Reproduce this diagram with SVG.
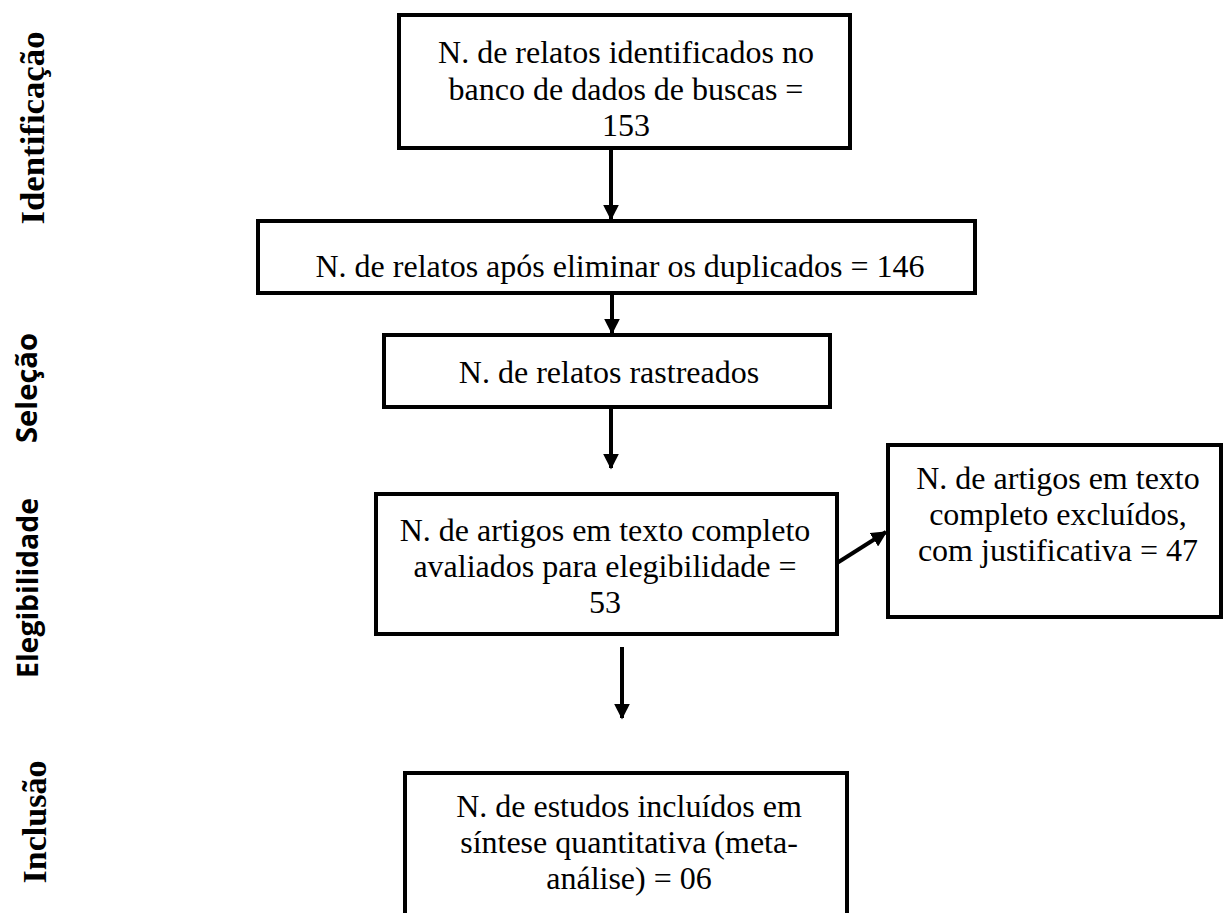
<svg xmlns="http://www.w3.org/2000/svg" width="1224" height="913" viewBox="0 0 1224 913">
<defs>
<style>
.box{fill:#fff;stroke:#000;stroke-width:4}
.t{font-family:"Liberation Serif","Times New Roman",serif;font-size:32px;fill:#000;text-anchor:middle}
.side{font-family:"Liberation Serif","Times New Roman",serif;font-size:34px;font-weight:bold;fill:#000;text-anchor:middle}
.side2{font-family:"Open Sans","Liberation Sans",sans-serif;font-size:28px;font-weight:bold;fill:#000;text-anchor:middle}
.c{stroke:#000;stroke-width:4;fill:none}
</style>
<marker id="ah" viewBox="0 0 10 10" refX="9" refY="5" markerWidth="4" markerHeight="4" orient="auto" markerUnits="strokeWidth">
<path d="M0,0 L10,5 L0,10 Z" fill="#000"/>
</marker>
</defs>
<rect width="1224" height="913" fill="#fff"/>
<g id="labels">
<text class="side" font-family="Liberation Serif, Times New Roman, serif" transform="translate(44,128) rotate(-90)" textLength="193" lengthAdjust="spacingAndGlyphs">Identificação</text>
<text class="side2" transform="translate(37,388) rotate(-90)" textLength="110" lengthAdjust="spacingAndGlyphs">Seleção</text>
<text class="side2" transform="translate(38,588) rotate(-90)" textLength="180" lengthAdjust="spacingAndGlyphs">Elegibilidade</text>
<text class="side" font-family="Liberation Serif, Times New Roman, serif" transform="translate(46,822) rotate(-90)" textLength="123" lengthAdjust="spacingAndGlyphs">Inclusão</text>
</g>
<g id="connectors">
<line class="c" x1="611" y1="150" x2="611" y2="219" marker-end="url(#ah)"/>
<line class="c" x1="612" y1="295" x2="612" y2="333" marker-end="url(#ah)"/>
<line class="c" x1="611" y1="409" x2="611" y2="468" marker-end="url(#ah)"/>
<line class="c" x1="622" y1="647" x2="622" y2="718" marker-end="url(#ah)"/>
<line class="c" x1="837" y1="563" x2="886" y2="532" marker-end="url(#ah)"/>
</g>
<g id="n1" font-family="Liberation Serif, Times New Roman, serif">
<rect class="box" x="399" y="15" width="451" height="133"/>
<text class="t" x="626" y="63">N. de relatos identificados no</text>
<text class="t" x="626" y="100">banco de dados de buscas =</text>
<text class="t" x="626" y="136">153</text>
</g>
<g id="n2" font-family="Liberation Serif, Times New Roman, serif">
<rect class="box" x="258" y="221" width="717" height="72"/>
<text class="t" x="620" y="277">N. de relatos após eliminar os duplicados = 146</text>
</g>
<g id="n3" font-family="Liberation Serif, Times New Roman, serif">
<rect class="box" x="384" y="335" width="446" height="72"/>
<text class="t" x="609" y="383">N. de relatos rastreados</text>
</g>
<g id="n4" font-family="Liberation Serif, Times New Roman, serif">
<rect class="box" x="376" y="494" width="461" height="140"/>
<text class="t" x="605" y="541">N. de artigos em texto completo</text>
<text class="t" x="605" y="577">avaliados para elegibilidade =</text>
<text class="t" x="605" y="613">53</text>
</g>
<g id="n5" font-family="Liberation Serif, Times New Roman, serif">
<rect class="box" x="888" y="445" width="333" height="172"/>
<text class="t" x="1058" y="489">N. de artigos em texto</text>
<text class="t" x="1058" y="525">completo excluídos,</text>
<text class="t" x="1058" y="561">com justificativa = 47</text>
</g>
<g id="n6" font-family="Liberation Serif, Times New Roman, serif">
<rect class="box" x="405" y="773" width="442" height="160"/>
<text class="t" x="629" y="817">N. de estudos incluídos em</text>
<text class="t" x="629" y="853">síntese quantitativa (meta-</text>
<text class="t" x="629" y="889">análise) = 06</text>
</g>
</svg>
